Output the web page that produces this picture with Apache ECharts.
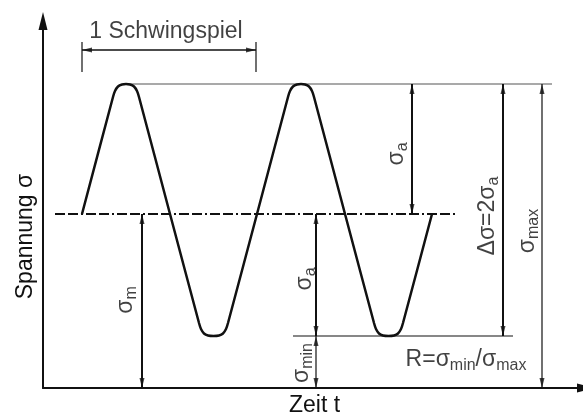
<!DOCTYPE html>
<html>
<head>
<meta charset="utf-8">
<script src="https://cdn.jsdelivr.net/npm/echarts@6/dist/echarts.min.js"></script>
<style>html,body{margin:0;padding:0;background:#fff}#c{width:583px;height:417px}</style>
</head>
<body>
<div id="c"></div>
<script>
// time (t) and stress (sigma) values of the schematic stress cycle
const waveT = [39, 70, 72, 75, 79, 83, 87, 91, 94, 96, 127, 156, 158, 161, 165, 170.5, 176, 180, 183, 185, 214, 245, 247, 250, 254, 258, 262, 266, 269, 271, 302, 331, 333, 336, 340, 345.5, 351, 355, 358, 360, 389];
const waveS = [174, 291, 297, 301.5, 303.5, 304, 303.5, 301.5, 297, 291, 174, 65, 59, 54.5, 52.5, 52, 52.5, 54.5, 59, 65, 174, 291, 297, 301.5, 303.5, 304, 303.5, 301.5, 297, 291, 174, 65, 59, 54.5, 52.5, 52, 52.5, 54.5, 59, 65, 174];
const sigmaMax = 304, sigmaMean = 174, sigmaMin = 52;
const meanLineT = [12, 415];
const maxLineT = [83, 509];
const minLineT = [250, 470];
// dimension arrows: [t, from, to]
const thickDimT = [99, 369, 273, 460];
const thickDimFrom = [174, 304, 174, 304];
const thickDimTo = [0, 174, 52, 52];
const thinDimT = [273, 499];
const thinDimFrom = [52, 304];
const thinDimTo = [0, 0];
const cycleT = [39, 213];
const cycleS = 338;
const cycleExt = [316, 346];
// labels
const labelTexts = ['{m|σ}{s|m}', '{m|σ}{s|a}', '{m|σ}{s|a}', '{m|σ}{s|min}', '{m|Δσ=2σ}{s|a}', '{m|σ}{s|max}'];
const labelT = [83, 354, 262, 259, 445, 485];
const labelS = [88, 234, 109, 25, 172, 157];
const cycleLabel = '1 Schwingspiel';
const cycleLabelPos = [123, 356];
const ratioLabel = '{m|R=σ}{s|min}{m|/σ}{s|max}';
const ratioLabelPos = [423, 28];
const xName = 'Zeit t', yName = 'Spannung σ';

const FONT = 'Liberation Sans, Arial, Helvetica, sans-serif';
const INK = '#111';
const rich = {
  m: {fontSize: 23, fontFamily: FONT, color: INK},
  s: {fontSize: 16, fontFamily: FONT, color: INK, padding: [12, 0, 0, 0]}
};

function segs(ts, from, to) {
  const d = [];
  ts.forEach((t, i) => { d.push([t, from[i]], [t, to[i]], [t, '-']); });
  return d;
}
const upHeads = [], downHeads = [];
thickDimT.concat(thinDimT).forEach((t, i) => {
  const f = thickDimFrom.concat(thinDimFrom)[i], g = thickDimTo.concat(thinDimTo)[i];
  upHeads.push([t, Math.max(f, g)]);
  downHeads.push([t, Math.min(f, g)]);
});

const chart = echarts.init(document.getElementById('c'), null, {renderer: 'canvas'});
const axisCommon = {
  type: 'value', splitLine: {show: false}, axisTick: {show: false}, axisLabel: {show: false}
};
chart.setOption({
  animation: false,
  backgroundColor: '#fff',
  grid: {left: 43, top: 21, width: 543, height: 367, containLabel: false, outerBoundsMode: 'none'},
  xAxis: Object.assign({}, axisCommon, {min: 0, max: 543, name: xName, nameLocation: 'middle', nameGap: 6,
    axisLine: {show: true, symbol: ['none', 'triangle'], symbolSize: [9, 18], lineStyle: {color: INK, width: 2}},
    nameTextStyle: {fontSize: 23, fontFamily: FONT, color: INK, verticalAlign: 'top'}}),
  yAxis: Object.assign({}, axisCommon, {min: 0, max: 367, name: yName, nameLocation: 'middle', nameGap: 6, nameRotate: 90,
    axisLine: {show: true, symbol: ['none', 'triangle'], symbolSize: [9, 18], lineStyle: {color: INK, width: 2}},
    nameTextStyle: {fontSize: 23, fontFamily: FONT, color: INK, padding: [0, 64, 0, 0]}}),
  series: [
    {type: 'line', data: waveT.map((t, i) => [t, waveS[i]]), symbol: 'none', smooth: 0.2,
      lineStyle: {color: INK, width: 2.5}, z: 5},
    {type: 'line', data: meanLineT.map(t => [t, sigmaMean]), symbol: 'none',
      lineStyle: {color: INK, width: 2, type: [10, 3, 10, 3, 2, 3]}},
    {type: 'line', data: maxLineT.map(t => [t, sigmaMax]), symbol: 'none', lineStyle: {color: '#555', width: 1.2}},
    {type: 'line', data: minLineT.map(t => [t, sigmaMin]), symbol: 'none', lineStyle: {color: INK, width: 1.2}},
    {type: 'line', data: segs(thickDimT, thickDimFrom, thickDimTo), symbol: 'none', connectNulls: false,
      lineStyle: {color: INK, width: 2}},
    {type: 'line', data: segs(thinDimT, thinDimFrom, thinDimTo), symbol: 'none', connectNulls: false,
      lineStyle: {color: INK, width: 1.2}},
    {type: 'line', data: cycleT.map(t => [t, cycleS]), symbol: 'none', lineStyle: {color: INK, width: 1.5}},
    {type: 'line', data: segs(cycleT, [cycleExt[0], cycleExt[0]], [cycleExt[1], cycleExt[1]]), symbol: 'none',
      connectNulls: false, lineStyle: {color: INK, width: 1.2}},
    {type: 'scatter', data: upHeads, symbol: 'triangle', symbolSize: [5, 10], symbolOffset: [0, 5],
      itemStyle: {color: INK}, z: 6},
    {type: 'scatter', data: downHeads, symbol: 'triangle', symbolSize: [5, 10], symbolRotate: 180, symbolOffset: [0, -5],
      itemStyle: {color: INK}, z: 6},
    {type: 'scatter', data: [[cycleT[0], cycleS]], symbol: 'triangle', symbolSize: [5, 10], symbolRotate: 90, symbolOffset: [5, 0],
      itemStyle: {color: INK}, z: 6},
    {type: 'scatter', data: [[cycleT[1], cycleS]], symbol: 'triangle', symbolSize: [5, 10], symbolRotate: -90, symbolOffset: [-5, 0],
      itemStyle: {color: INK}, z: 6},
    {type: 'scatter', symbolSize: 0, clip: false, z: 7,
      data: labelT.map((t, i) => ({value: [t, labelS[i]], label: {formatter: labelTexts[i]}}))
        .concat([
          {value: cycleLabelPos, label: {formatter: cycleLabel, rotate: 0, fontSize: 23, fontFamily: FONT, color: INK}},
          {value: ratioLabelPos, label: {formatter: ratioLabel, rotate: 0}}
        ]),
      label: {show: true, position: 'inside', rotate: 90, rich: rich, fontSize: 23, fontFamily: FONT, color: INK,
        align: 'center', verticalAlign: 'middle'}}
  ]
});
</script>
</body>
</html>
